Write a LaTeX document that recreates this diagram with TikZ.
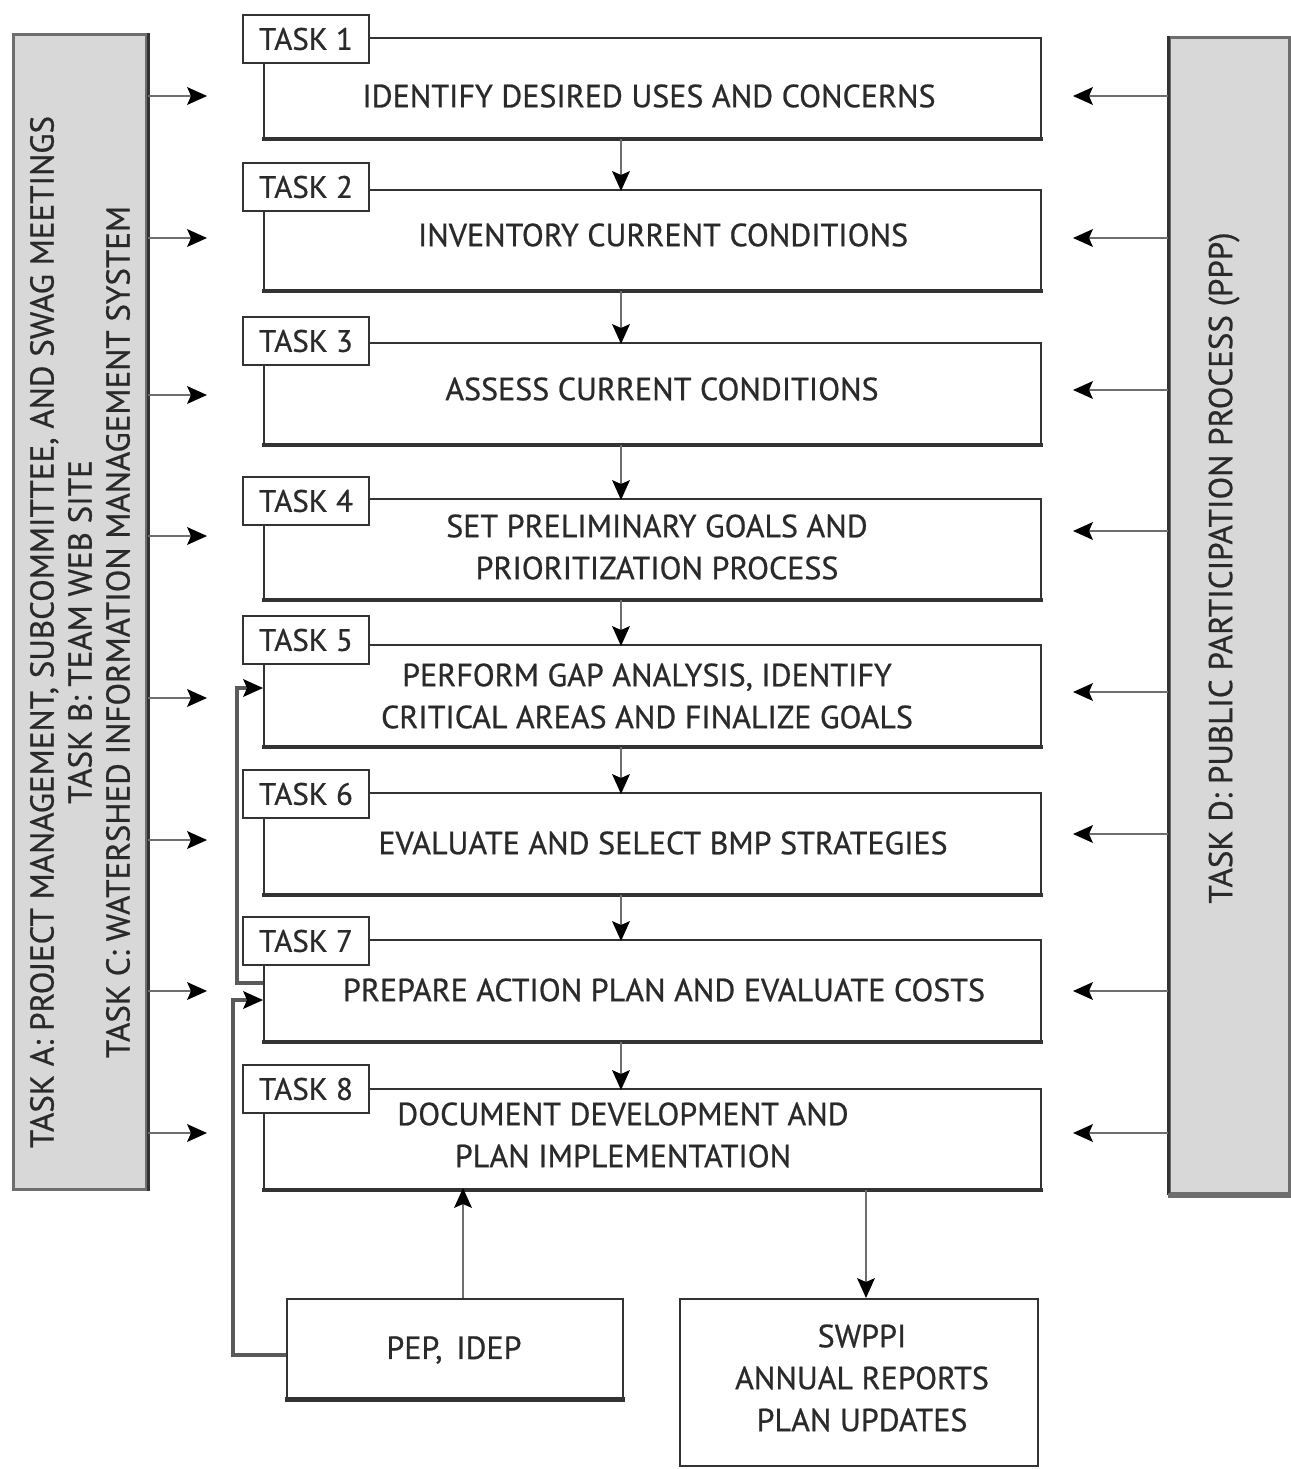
\documentclass[tikz,border=0pt]{standalone}
\usepackage{fontspec}
\setmainfont{PT Sans}[FakeBold=0.7]
\usetikzlibrary{arrows.meta}
\definecolor{ln}{HTML}{333333}
\definecolor{cn}{HTML}{6E6E6E}
\definecolor{fb}{HTML}{5A5A5A}
\definecolor{gf}{HTML}{D8D8D8}
\definecolor{tx}{HTML}{2A2A2A}
\begin{document}
\begin{tikzpicture}[x=1pt,y=-1pt,
  mainbox/.style={draw=ln, line width=2pt, fill=white, anchor=north west, minimum width=777pt, inner sep=0pt},
  tasklbl/.style={draw=ln, line width=2pt, fill=white, anchor=north west, minimum width=126pt, minimum height=48pt, inner sep=0pt, text=tx, font=\fontsize{31}{34}\selectfont},
  boxtext/.style={text=tx, align=center, font=\fontsize{32}{42}\selectfont, inner sep=0pt},
  greybox/.style={draw=cn, line width=3pt, fill=gf, anchor=north west, inner sep=0pt},
  sidetext/.style={text=tx, align=center, rotate=90, font=\fontsize{33}{38}\selectfont, inner sep=0pt},
  arrtip/.style={-{Stealth[length=20pt,width=18pt,inset=4pt,line width=0pt,fill=black,color=black]}},
  arr/.style={draw=cn, line width=2.5pt, arrtip},
  fbarr/.style={draw=fb, line width=4pt, arrtip}
]
\useasboundingbox (0,0) rectangle (1290,1469);

% side grey boxes
\node[greybox, minimum width=133pt, minimum height=1155pt] (L) at (12,33) {};
\node[greybox, minimum width=120pt, minimum height=1156pt] (R) at (1168,36) {};
\draw[ln, line width=3pt] (L.north east) -- (L.south east);
\draw[ln, line width=3pt] (R.north west) -- (R.south west);
\draw[cn, line width=5pt] (R.south west) -- (R.south east);
\node[sidetext] (Ltxt) at (80,632) {TASK A: PROJECT MANAGEMENT, SUBCOMMITTEE, AND SWAG MEETINGS\\TASK B: TEAM WEB SITE\\TASK C: WATERSHED INFORMATION MANAGEMENT SYSTEM};
\node[sidetext] (Rtxt) at (1224,568) {TASK D: PUBLIC PARTICIPATION PROCESS (PPP)};

% main task boxes
\node[mainbox, minimum height=100pt] (b1) at (263,37) {};
\node[mainbox, minimum height=100pt] (b2) at (263,189) {};
\node[mainbox, minimum height=101pt] (b3) at (263,342) {};
\node[mainbox, minimum height=100pt] (b4) at (263,498) {};
\node[mainbox, minimum height=101pt] (b5) at (263,644) {};
\node[mainbox, minimum height=101pt] (b6) at (263,792) {};
\node[mainbox, minimum height=101pt] (b7) at (263,939) {};
\node[mainbox, minimum height=100pt] (b8) at (263,1088) {};
\foreach \b in {b1,b2,b3,b4,b5,b6,b7,b8}{
  \draw[ln, line width=3.5pt] ([xshift=-1pt]\b.south west) -- ([xshift=1pt]\b.south east);
}

% task labels
\node[tasklbl] (l1) at (242,14) {TASK 1};
\node[tasklbl] (l2) at (242,162) {TASK 2};
\node[tasklbl] (l3) at (242,316) {TASK 3};
\node[tasklbl] (l4) at (242,476) {TASK 4};
\node[tasklbl] (l5) at (242,615) {TASK 5};
\node[tasklbl] (l6) at (242,769) {TASK 6};
\node[tasklbl] (l7) at (242,916) {TASK 7};
\node[tasklbl] (l8) at (242,1064) {TASK 8};

% box texts
\node[boxtext] (t1) at (649,96) {IDENTIFY DESIRED USES AND CONCERNS};
\node[boxtext] (t2) at (663,235) {INVENTORY CURRENT CONDITIONS};
\node[boxtext] (t3) at (662,389) {ASSESS CURRENT CONDITIONS};
\node[boxtext] (t4) at (657,547) {SET PRELIMINARY GOALS AND\\PRIORITIZATION PROCESS};
\node[boxtext] (t5) at (647,696) {PERFORM GAP ANALYSIS, IDENTIFY\\CRITICAL AREAS AND FINALIZE GOALS};
\node[boxtext] (t6) at (663,843) {EVALUATE AND SELECT BMP STRATEGIES};
\node[boxtext] (t7) at (664,990) {PREPARE ACTION PLAN AND EVALUATE COSTS};
\node[boxtext] (t8) at (623,1135) {DOCUMENT DEVELOPMENT AND\\PLAN IMPLEMENTATION};

% bottom boxes
\node[draw=ln, line width=2pt, anchor=north west, minimum width=336pt, minimum height=99pt, inner sep=0pt] (pep) at (286,1298) {};
\draw[ln, line width=5pt] ([xshift=-1pt]pep.south west) -- ([xshift=1pt]pep.south east);
\node[boxtext] (pept) at (454,1350) {PEP,\, IDEP};
\node[draw=ln, line width=2pt, anchor=north west, minimum width=358pt, minimum height=167pt, inner sep=0pt] (sw) at (679,1298) {};
\node[boxtext] (swt) at (862,1378) {SWPPI\\ANNUAL REPORTS\\PLAN UPDATES};

% flow arrows between tasks
\foreach \a/\b in {b1/b2,b2/b3,b3/b4,b4/b5,b5/b6,b6/b7,b7/b8}{
  \draw[arr] (\a.south -| 621,0) -- ([yshift=-2pt]\b.north -| 621,0);
}

% left side arrows
\foreach \y [count=\i] in {96,238,395,536,698,840,991,1133}{
  \coordinate (la\i) at (207,\y);
  \draw[arr] (L.east |- la\i) -- (la\i);
}
% right side arrows
\foreach \y [count=\i] in {96,238,390,531,692,834,991,1133}{
  \coordinate (ra\i) at (1073,\y);
  \draw[arr] (R.west |- ra\i) -- (ra\i);
}

% feedback from task 7 to task 5
\coordinate (out7) at (263,983);
\coordinate (in5) at (263,688);
\draw[fbarr] (out7) -- (237,983) |- (in5);
% PEP, IDEP to task 7
\coordinate (pepout) at (286,1355);
\coordinate (in7) at (263,1000);
\draw[fbarr] (pepout) -- (233,1355) |- (in7);

% PEP to task 8
\coordinate (pepup) at (463,1298);
\draw[arr] (pepup) -- ([yshift=2pt]pepup |- b8.south);
% task 8 to SWPPI
\coordinate (swin) at (866,1298);
\draw[arr] (swin |- b8.south) -- (swin);
\end{tikzpicture}
\end{document}
